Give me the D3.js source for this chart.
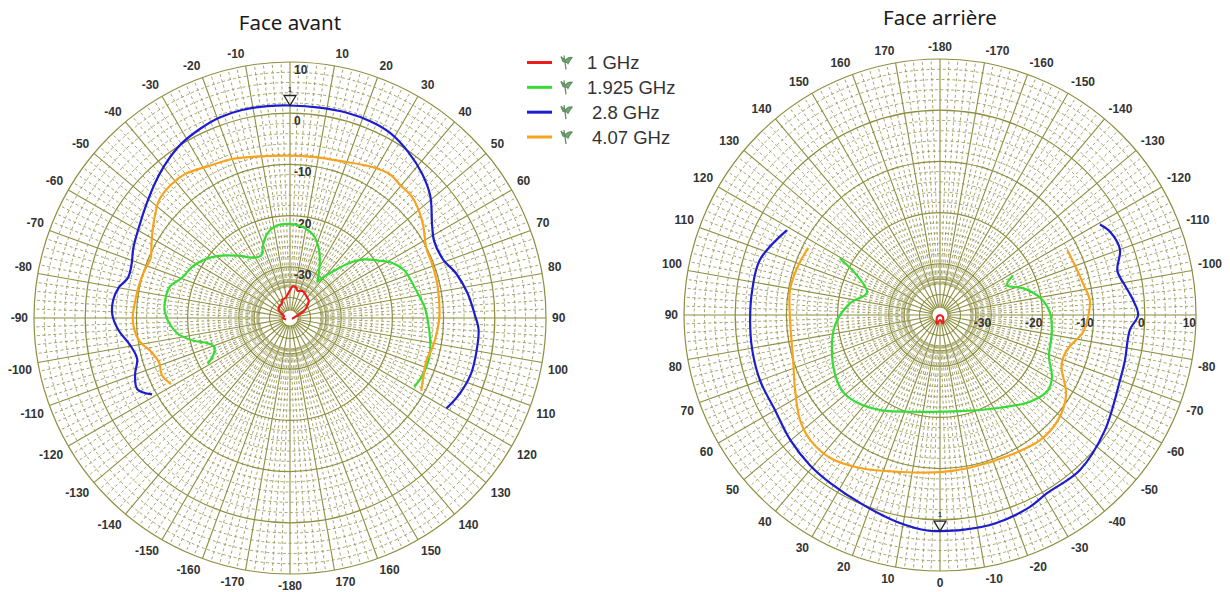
<!DOCTYPE html>
<html><head><meta charset="utf-8">
<script src="https://cdn.jsdelivr.net/npm/d3@7"></script>
<style>body{margin:0;background:#fff;} svg{display:block;}</style>
</head><body>
<svg id="c" width="1230" height="592"></svg>
<script>
// ---------- data ----------
const seriesNames = ["1 GHz", "1.925 GHz", "2.8 GHz", "4.07 GHz"];
const seriesColors = ["#ee1c1c", "#36dc36", "#1c1cd0", "#f8a31e"];
const dbTicks = [-30, -20, -10, 0, 10];
const angleTicks = d3.range(-170, 190, 10);
const chartTitles = ["Face avant", "Face arrière"];

// Face avant : [angle (deg), level (dB)]
const avant_1GHz = [[-110,-39.2],[-90,-38.6],[-74,-38.8],[-61,-38.0],[-57,-37.4],[-42,-36.9],[-30,-36.8],[-22,-36.1],[-13,-36.0],[-6,-35.4],[0,-34.6],[5,-33.8],[11,-33.9],[16,-34.5],[25,-34.2],[38,-34.7],[47,-35.0],[54,-35.8],[63,-36.9],[68,-37.9],[75,-38.8],[90,-39.3],[110,-39.6]];
const avant_1925MHz = [[-119,-21.6],[-116,-23.3],[-111,-24.2],[-107,-23.2],[-103,-20.5],[-98,-17.9],[-92,-16.3],[-87,-15.5],[-80,-15.4],[-75,-15.8],[-70,-17.4],[-62,-18.5],[-56,-19.7],[-49,-21.5],[-40,-24.1],[-32,-26.1],[-25,-26.6],[-20,-24.7],[-15,-22.9],[-8.5,-21.8],[-1.5,-21.6],[6.5,-21.9],[13,-22.7],[17,-23.5],[22.5,-25.3],[28.5,-27.8],[35,-30.4],[37,-31.1],[39,-29.9],[43,-27.4],[47,-24.3],[51.5,-21.6],[57,-19.4],[62,-17.2],[67.5,-15.8],[73.5,-15.2],[80.5,-14.4],[85.5,-13.6],[92,-13.0],[98,-12.4],[104,-11.8],[110,-11.7],[115,-11.9],[119,-12.3]];
const avant_2800MHz = [[-119,-9.2],[-115,-7.1],[-110,-7.8],[-105,-9.1],[-99.5,-8.3],[-94,-6.4],[-89,-5.3],[-84,-5.3],[-80,-6.0],[-76,-7.4],[-71,-7.3],[-66,-6.5],[-58.5,-5.5],[-51.5,-4.2],[-44.5,-2.6],[-38.5,-1.2],[-32,0.1],[-25.5,0.9],[-19.5,1.5],[-13,1.7],[-6,1.6],[0,1.5],[8,1.5],[15,1.6],[22.5,1.5],[28.5,1.1],[35.5,-0.2],[42.5,-1.8],[49,-3.7],[57,-6.9],[62,-8.1],[69,-8.0],[75,-6.4],[82,-5.0],[89,-3.9],[93.5,-3.1],[100,-3.0],[107,-3.0],[114,-3.7],[120,-4.7]];
const avant_4070MHz = [[-119,-13.4],[-114,-12.6],[-109,-13.0],[-104,-12.2],[-98.5,-10.2],[-93,-9.4],[-89,-9.3],[-83.5,-9.6],[-78,-9.8],[-72,-10.1],[-67,-10.4],[-61,-9.1],[-55,-7.5],[-48,-5.6],[-42,-5.1],[-36,-5.2],[-28.5,-6.3],[-19.5,-7.0],[-10.5,-7.9],[0,-8.3],[9,-8.2],[18,-7.8],[28,-6.5],[34.5,-5.8],[40,-6.3],[45,-6.4],[50.5,-7.3],[55.5,-8.4],[63,-10.1],[69,-10.3],[77.5,-10.5],[89,-10.8],[94.5,-11.1],[102,-11.6],[107,-12.1],[114,-11.5],[119,-10.7]];

// Face arrière : [angle (deg), level (dB)]
const arriere_1GHz = [[-110,-40],[-60,-39.4],[-20,-38.3],[0,-39.0],[20,-38.2],[60,-39.4],[110,-40]];
const arriere_1925MHz = [[-118.5,-23.8],[-114,-25.7],[-108,-23.0],[-100,-20.2],[-91,-18.5],[-81,-17.9],[-69,-17.2],[-61,-15.0],[-55,-14.3],[-46,-15.6],[-33,-18.4],[-12,-20.8],[11.5,-20.7],[32,-18.1],[43,-16.5],[51.5,-15.8],[60,-16.4],[72,-17.8],[84.5,-19.4],[97.5,-22.3],[107,-25.1],[115.5,-22.0],[119.5,-17.5]];
const arriere_2800MHz = [[-119.5,-4.1],[-116,-3.0],[-110,-2.6],[-104,-4.3],[-99,-3.4],[-94.5,-2.2],[-90,-1.3],[-85.5,-2.8],[-76,-2.8],[-70,-2.6],[-55,-0.7],[-42,0.8],[-31,0.6],[-25,1.4],[-15,2.1],[-6,2.2],[0,2.2],[3,2.2],[11.5,1.3],[22,0.0],[33,-0.8],[41,-1.2],[50,-1.9],[60,-2.8],[70,-2.6],[79.5,-2.7],[88.5,-2.9],[97.5,-3.0],[107,-3.2],[119,-5.8]];
const arriere_4070MHz = [[-117,-12.1],[-108,-11.8],[-102.5,-11.4],[-95.5,-10.6],[-89,-11.1],[-83,-11.9],[-74.5,-14.3],[-67.5,-14.3],[-57.5,-10.8],[-48,-9.1],[-38.5,-8.7],[-26.5,-9.4],[-11,-9.6],[0,-9.3],[14,-8.4],[27.5,-6.3],[37.5,-4.8],[46,-4.8],[53,-5.8],[62.5,-8.1],[73,-10.0],[88,-10.7],[99.5,-10.3],[108,-10.6],[117,-11.1]];

// ---------- drawing ----------
const svg = d3.select("#c");
const R = 256;
const GRID = "#8e8e3e";
const GRID_MINOR = "#8f8f48";
const LABEL = "#333";

function drawChart(cx, cy, offsetDeg, series, omitAngle, dbAxis, title, titleY) {
  const g = svg.append("g").attr("transform", `translate(${cx},${cy})`);
  const r = d3.scaleLinear().domain([-40, 10]).range([0, R]);
  const a = d3.scaleLinear().domain([-180, 180])
    .range([(-180 + offsetDeg) * Math.PI / 180, (180 + offsetDeg) * Math.PI / 180]);
  const pt = (deg, rad) => [rad * Math.sin(a(deg)), -rad * Math.cos(a(deg))];
  const hole = r(-38.4);

  // minor rings (dashed)
  g.append("g").selectAll("circle")
    .data(d3.range(-38, 10, 2).filter(v => v % 10 !== 0))
    .join("circle").attr("r", d => r(d)).attr("fill", "none")
    .attr("stroke", GRID_MINOR).attr("stroke-width", 0.8).attr("stroke-dasharray", "3,2.5");
  // minor radials (dashed)
  g.append("g").selectAll("line")
    .data(d3.range(-180, 180, 2).filter(v => v % 10 !== 0))
    .join("line")
    .attr("x1", d => pt(d, r(-34))[0]).attr("y1", d => pt(d, r(-34))[1])
    .attr("x2", d => pt(d, R)[0]).attr("y2", d => pt(d, R)[1])
    .attr("stroke", GRID_MINOR).attr("stroke-width", 0.8).attr("stroke-dasharray", "3,2.5");
  // major rings
  g.append("g").selectAll("circle")
    .data([-36, -33, -30, -20, -10, 0, 10])
    .join("circle").attr("r", d => r(d)).attr("fill", "none")
    .attr("stroke", GRID).attr("stroke-width", d => d >= -30 ? 1.2 : 1.0);
  // major radials
  g.append("g").selectAll("line")
    .data(d3.range(-180, 180, 10))
    .join("line")
    .attr("x1", d => pt(d, hole)[0]).attr("y1", d => pt(d, hole)[1])
    .attr("x2", d => pt(d, R)[0]).attr("y2", d => pt(d, R)[1])
    .attr("stroke", GRID).attr("stroke-width", 1.1);
  // central hole
  g.append("circle").attr("r", hole).attr("fill", "#fff").attr("stroke", GRID).attr("stroke-width", 1.2);

  // angle labels, anchored on the side facing the circle
  const LR = R + 6;
  g.append("g").selectAll("text")
    .data(angleTicks.filter(d => d !== omitAngle))
    .join("text")
    .attr("x", d => pt(d, LR)[0]).attr("y", d => pt(d, LR)[1])
    .attr("text-anchor", d => { const s = Math.sin(a(d)); return s > 0.05 ? "start" : s < -0.05 ? "end" : "middle"; })
    .attr("dy", d => { const c = Math.cos(a(d)); return c > 0.05 ? "-0.15em" : c < -0.05 ? "0.85em" : "0.35em"; })
    .attr("font-family", "Liberation Sans, Arial, sans-serif").attr("font-weight", "bold")
    .attr("font-size", 12).attr("fill", LABEL)
    .text(d => d === 180 ? "-180" : d);

  // dB labels
  g.append("g").selectAll("text")
    .data(dbTicks)
    .join("text")
    .attr("x", d => dbAxis === "up" ? 4 : r(d))
    .attr("y", d => dbAxis === "up" ? -r(d) + 8 : 8)
    .attr("text-anchor", dbAxis === "up" ? "start" : "end")
    .attr("dominant-baseline", "central")
    .attr("font-family", "Liberation Sans, Arial, sans-serif").attr("font-weight", "bold")
    .attr("font-size", 12).attr("fill", LABEL)
    .text(d => d);

  // curves
  const line = d3.lineRadial().angle(d => a(d[0])).radius(d => r(d[1])).curve(d3.curveCatmullRom.alpha(0.5));
  g.append("g").selectAll("path")
    .data(series)
    .join("path")
    .attr("d", d => line(d))
    .attr("fill", "none")
    .attr("stroke", (d, i) => seriesColors[i])
    .attr("stroke-width", 2.2)
    .attr("stroke-linejoin", "round");

  // marker "1" at the 2.8 GHz value at 0 deg
  const peak = series[2].find(d => d[0] === 0);
  const [mx, my] = pt(0, r(peak[1]));
  g.append("path")
    .attr("d", `M${mx},${my} L${mx - 6},${my - 10} L${mx + 6},${my - 10} Z`)
    .attr("fill", "#fff").attr("fill-opacity", 0.6).attr("stroke", "#222").attr("stroke-width", 1.3);
  g.append("text").attr("x", mx).attr("y", my - 14)
    .attr("text-anchor", "middle").attr("font-family", "Liberation Sans, Arial, sans-serif")
    .attr("font-size", 8).attr("fill", "#222").text("1");

  // title
  svg.append("text").attr("x", cx).attr("y", titleY)
    .attr("text-anchor", "middle").attr("font-family", "Noto Sans, Open Sans, sans-serif")
    .attr("font-size", 20.5).attr("fill", "#1a1a1a").text(title);
}

drawChart(290, 318, 0, [avant_1GHz, avant_1925MHz, avant_2800MHz, avant_4070MHz], 0, "up", chartTitles[0], 30);
drawChart(940, 315, 180, [arriere_1GHz, arriere_1925MHz, arriere_2800MHz, arriere_4070MHz], -90, "right", chartTitles[1], 25);

// legend
const legend = svg.append("g").attr("transform", "translate(527,0)");
const legY = d3.scalePoint().domain(seriesNames).range([62.5, 137]);
const items = legend.selectAll("g").data(seriesNames).join("g")
  .attr("transform", d => `translate(0,${legY(d)})`);
items.append("line").attr("x1", 0).attr("x2", 25).attr("y1", 0).attr("y2", 0)
  .attr("stroke", (d, i) => seriesColors[i]).attr("stroke-width", 3);
items.append("path")
  .attr("d", "M37,-7 L39,7 M34,-6 C36,-3 38,-4 38,-2 C40,-4 42,-6 45,-5 C43,-3 42,-1 41,1 C40,-1 38,0 36,-1 Z")
  .attr("stroke", "#5f8f60").attr("stroke-width", 1.3).attr("fill", "#79a979");
items.append("text")
  .attr("x", (d, i) => i < 2 ? 60 : 65).attr("y", 0)
  .attr("dominant-baseline", "central")
  .attr("font-family", "Liberation Sans, Arial, sans-serif").attr("font-size", 18.5)
  .attr("fill", "#333").text(d => d);
</script>
</body></html>
